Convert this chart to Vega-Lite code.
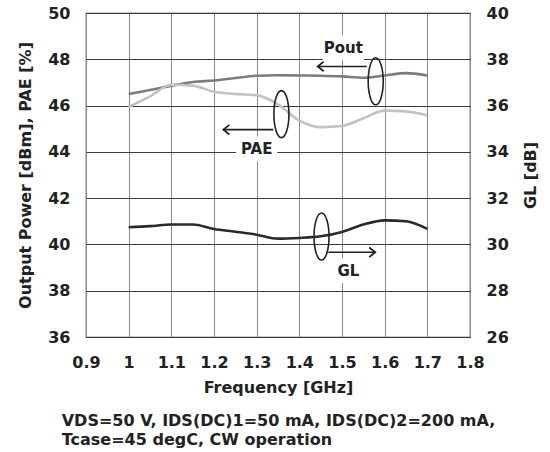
{
  "$schema": "https://vega.github.io/schema/vega-lite/v6.json",
  "width": 384,
  "height": 324,
  "autosize": {"type": "none"},
  "padding": {"left": 86, "top": 13, "right": 80, "bottom": 115},
  "background": "white",
  "config": {
    "view": {"stroke": "#333", "strokeWidth": 1.2},
    "font": "DejaVu Sans",
    "axis": {
      "labelFont": "DejaVu Sans",
      "labelFontWeight": "bold",
      "labelFontSize": 16,
      "labelColor": "#222",
      "titleFont": "DejaVu Sans",
      "titleFontWeight": "bold",
      "titleFontSize": 16,
      "titleColor": "#222",
      "ticks": false,
      "domain": false,
      "gridWidth": 1
    }
  },
  "title": {
    "text": ["VDS=50 V, IDS(DC)1=50 mA, IDS(DC)2=200 mA,", "Tcase=45 degC, CW operation"],
    "orient": "bottom",
    "anchor": "start",
    "dx": 44,
    "offset": 18,
    "fontSize": 16,
    "fontWeight": "bold",
    "font": "DejaVu Sans",
    "color": "#222",
    "lineHeight": 19
  },
  "datasets": {
    "curves": [
      {"freq": 1.0, "value": 46.5, "series": "Pout"},
      {"freq": 1.05, "value": 46.67, "series": "Pout"},
      {"freq": 1.1, "value": 46.86, "series": "Pout"},
      {"freq": 1.15, "value": 47.02, "series": "Pout"},
      {"freq": 1.2, "value": 47.08, "series": "Pout"},
      {"freq": 1.25, "value": 47.19, "series": "Pout"},
      {"freq": 1.3, "value": 47.29, "series": "Pout"},
      {"freq": 1.35, "value": 47.31, "series": "Pout"},
      {"freq": 1.4, "value": 47.3, "series": "Pout"},
      {"freq": 1.45, "value": 47.29, "series": "Pout"},
      {"freq": 1.5, "value": 47.26, "series": "Pout"},
      {"freq": 1.55, "value": 47.2, "series": "Pout"},
      {"freq": 1.6, "value": 47.3, "series": "Pout"},
      {"freq": 1.65, "value": 47.4, "series": "Pout"},
      {"freq": 1.7, "value": 47.3, "series": "Pout"},
      {"freq": 1.0, "value": 45.94, "series": "PAE"},
      {"freq": 1.05, "value": 46.4, "series": "PAE"},
      {"freq": 1.1, "value": 46.9, "series": "PAE"},
      {"freq": 1.15, "value": 46.86, "series": "PAE"},
      {"freq": 1.2, "value": 46.6, "series": "PAE"},
      {"freq": 1.25, "value": 46.5, "series": "PAE"},
      {"freq": 1.3, "value": 46.45, "series": "PAE"},
      {"freq": 1.35, "value": 46.05, "series": "PAE"},
      {"freq": 1.4, "value": 45.35, "series": "PAE"},
      {"freq": 1.45, "value": 45.07, "series": "PAE"},
      {"freq": 1.5, "value": 45.12, "series": "PAE"},
      {"freq": 1.55, "value": 45.45, "series": "PAE"},
      {"freq": 1.6, "value": 45.78, "series": "PAE"},
      {"freq": 1.65, "value": 45.75, "series": "PAE"},
      {"freq": 1.7, "value": 45.58, "series": "PAE"}
    ],
    "gain": [
      {"freq": 1.0, "gl": 30.74},
      {"freq": 1.05, "gl": 30.79},
      {"freq": 1.1, "gl": 30.86},
      {"freq": 1.15, "gl": 30.86},
      {"freq": 1.2, "gl": 30.67},
      {"freq": 1.25, "gl": 30.55},
      {"freq": 1.3, "gl": 30.42},
      {"freq": 1.35, "gl": 30.25},
      {"freq": 1.4, "gl": 30.28},
      {"freq": 1.45, "gl": 30.35},
      {"freq": 1.5, "gl": 30.54},
      {"freq": 1.55, "gl": 30.86},
      {"freq": 1.6, "gl": 31.04},
      {"freq": 1.65, "gl": 31.0},
      {"freq": 1.7, "gl": 30.67}
    ],
    "labels": [
      {"label": "Pout", "f": 1.503, "v": 48.5},
      {"label": "PAE", "f": 1.3, "v": 44.13},
      {"label": "GL", "f": 1.515, "v": 38.87}
    ],
    "rings": [
      {"name": "Pout", "f": 1.579, "v": 47.05},
      {"name": "PAE", "f": 1.358, "v": 45.63},
      {"name": "GL", "f": 1.452, "v": 40.34}
    ],
    "arrows": [
      {"name": "Pout", "from": 1.558, "to": 1.443, "v": 47.69, "dir": "left"},
      {"name": "PAE", "from": 1.339, "to": 1.222, "v": 44.96, "dir": "left"},
      {"name": "GL", "from": 1.468, "to": 1.578, "v": 39.66, "dir": "right"}
    ]
  },
  "layer": [
    {
      "layer": [
        {
          "data": {"name": "curves"},
          "mark": {"type": "line", "strokeWidth": 2.6, "interpolate": "monotone"},
          "encoding": {
            "x": {
              "field": "freq", "type": "quantitative",
              "scale": {"domain": [0.9, 1.8], "nice": false, "zero": false},
              "axis": {
                "title": "Frequency [GHz]",
                "values": [0.9, 1.0, 1.1, 1.2, 1.3, 1.4, 1.5, 1.6, 1.7, 1.8],
                "format": "~g",
                "grid": true, "gridColor": "#8a8a8a",
                "labelPadding": 17, "titlePadding": 9,
                "labelFlush": false
              }
            },
            "y": {
              "field": "value", "type": "quantitative",
              "scale": {"domain": [36, 50], "nice": false, "zero": false},
              "axis": {
                "title": "Output Power [dBm], PAE [%]",
                "values": [36, 38, 40, 42, 44, 46, 48, 50],
                "grid": true, "gridColor": "#3a3a3a",
                "labelPadding": 16, "titlePadding": 14,
                "labelFlush": false
              }
            },
            "color": {
              "field": "series", "type": "nominal",
              "scale": {"domain": ["PAE", "Pout"], "range": ["#c2c2c2", "#7c7c7c"]},
              "legend": null
            },
            "order": {"field": "series", "sort": "ascending"}
          }
        },
        {
          "data": {"name": "labels"},
          "mark": {"type": "point", "shape": "M -1 -0.6 L 1 -0.6 L 1 0.6 L -1 0.6 Z", "filled": true, "fill": "white", "opacity": 1, "strokeWidth": 0, "size": 1700},
          "encoding": {
            "x": {"field": "f", "type": "quantitative"},
            "y": {"field": "v", "type": "quantitative"}
          }
        },
        {
          "data": {"name": "labels"},
          "mark": {"type": "text", "font": "DejaVu Sans", "fontWeight": "bold", "fontSize": 15, "color": "#222", "align": "center", "baseline": "middle"},
          "encoding": {
            "x": {"field": "f", "type": "quantitative"},
            "y": {"field": "v", "type": "quantitative"},
            "text": {"field": "label"}
          }
        },
        {
          "data": {"name": "rings"},
          "mark": {"type": "point", "shape": "M 0 -1 A 0.32 1 0 1 1 0 1 A 0.32 1 0 1 1 0 -1", "filled": false, "stroke": "#222", "strokeWidth": 1.6, "opacity": 1, "size": 2209},
          "encoding": {
            "x": {"field": "f", "type": "quantitative"},
            "y": {"field": "v", "type": "quantitative"}
          }
        },
        {
          "data": {"name": "arrows"},
          "mark": {"type": "rule", "stroke": "#222", "strokeWidth": 1.6},
          "encoding": {
            "x": {"field": "from", "type": "quantitative"},
            "x2": {"field": "to"},
            "y": {"field": "v", "type": "quantitative"}
          }
        },
        {
          "data": {"name": "arrows"},
          "mark": {"type": "point", "filled": false, "stroke": "#222", "strokeWidth": 1.8, "opacity": 1, "size": 144},
          "encoding": {
            "x": {"field": "to", "type": "quantitative"},
            "y": {"field": "v", "type": "quantitative"},
            "shape": {
              "field": "dir", "type": "nominal",
              "scale": {"domain": ["left", "right"], "range": ["M 1 -0.8 L 0 0 L 1 0.8", "M -1 -0.8 L 0 0 L -1 0.8"]},
              "legend": null
            }
          }
        }
      ]
    },
    {
      "data": {"name": "gain"},
      "mark": {"type": "line", "strokeWidth": 2.6, "interpolate": "monotone", "color": "#2a2a2a"},
      "encoding": {
        "x": {"field": "freq", "type": "quantitative"},
        "y": {
          "field": "gl", "type": "quantitative",
          "scale": {"domain": [26, 40], "nice": false, "zero": false},
          "axis": {
            "orient": "right",
            "title": "GL [dB]",
            "titleAngle": -90,
            "titleBaseline": "top",
            "values": [26, 28, 30, 32, 34, 36, 38, 40],
            "grid": false,
            "labelPadding": 16, "titlePadding": 14,
            "labelFlush": false
          }
        }
      }
    }
  ],
  "resolve": {"scale": {"y": "independent"}}
}
